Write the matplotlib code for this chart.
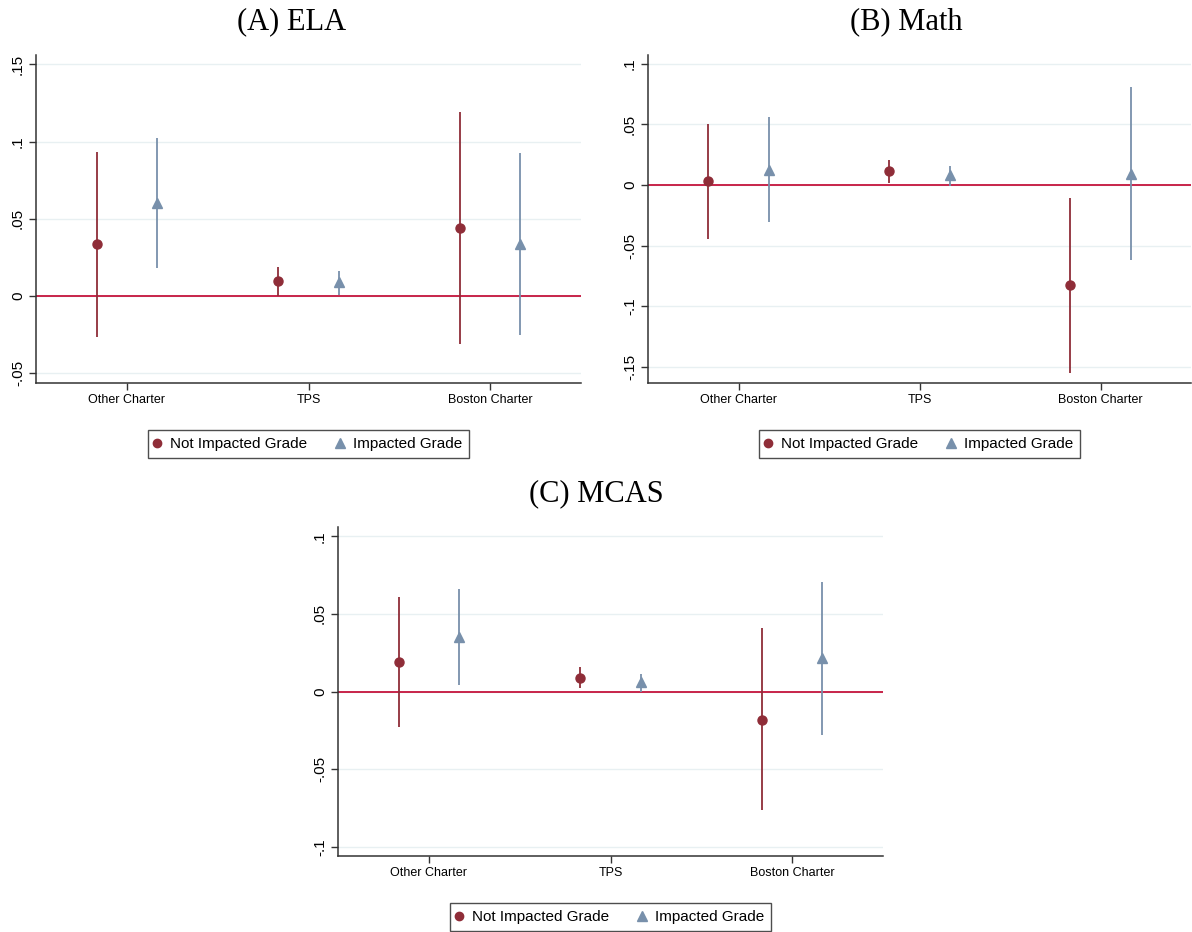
import matplotlib
matplotlib.use("Agg")
import matplotlib.pyplot as plt
from matplotlib.lines import Line2D

plt.rcParams["font.family"] = ["Liberation Sans", "DejaVu Sans"]

# Categories and estimates
categories = ["Other Charter", "TPS", "Boston Charter"]

ela_ni = [0.0334, 0.0097, 0.0438]
ela_ni_lo = [-0.0263, 0.0002, -0.0313]
ela_ni_hi = [0.093, 0.0186, 0.119]
ela_i = [0.060, 0.0089, 0.0336]
ela_i_lo = [0.0183, 0.0006, -0.0254]
ela_i_hi = [0.1024, 0.0164, 0.0923]

math_ni = [0.003, 0.0112, -0.0827]
math_ni_lo = [-0.0445, 0.0016, -0.155]
math_ni_hi = [0.050, 0.0209, -0.0107]
math_i = [0.0126, 0.0079, 0.0093]
math_i_lo = [-0.0308, -0.001, -0.0621]
math_i_hi = [0.0563, 0.0154, 0.0808]

mcas_ni = [0.0189, 0.009, -0.0181]
mcas_ni_lo = [-0.0228, 0.0023, -0.0766]
mcas_ni_hi = [0.0606, 0.0157, 0.0406]
mcas_i = [0.0352, 0.0058, 0.0213]
mcas_i_lo = [0.0043, -0.0002, -0.0282]
mcas_i_hi = [0.066, 0.0112, 0.0703]

yticks_ela = [-0.05, 0, 0.05, 0.1, 0.15]
yticks_math = [-0.15, -0.1, -0.05, 0, 0.05, 0.1]
yticks_mcas = [-0.1, -0.05, 0, 0.05, 0.1]

RED = "#8f2d38"
BLUE = "#7890ab"
ZERO = "#c4143c"
GRID = "#e8f0f2"


def fmt(v):
    if v == 0:
        return "0"
    s = ("%g" % v)
    return s.replace("0.", ".")


def panel(fig, rect, title, title_x, title_y, legend_y, ni, ni_lo, ni_hi,
          im, im_lo, im_hi, yticks, ylim):
    ax = fig.add_axes(rect)
    x = list(range(1, len(categories) + 1))
    xn = [v - 1 / 6 for v in x]
    xi = [v + 1 / 6 for v in x]

    for t in yticks:
        ax.axhline(t, color=GRID, lw=1.0, zorder=0)
    ax.axhline(0, color=ZERO, lw=1.3, zorder=1)

    ax.vlines(xn, ni_lo, ni_hi, color=RED, lw=1.3, zorder=2)
    ax.vlines(xi, im_lo, im_hi, color=BLUE, lw=1.3, zorder=2)
    ax.plot(xn, ni, "o", color=RED, ms=6.5, zorder=3)
    ax.plot(xi, im, "^", color=BLUE, ms=7, zorder=3)

    ax.set_xlim(0.5, 3.5)
    ax.set_ylim(*ylim)
    ax.set_xticks(x)
    ax.set_xticklabels(categories, fontsize=9)
    ax.set_yticks(yticks)
    ax.set_yticklabels([fmt(t) for t in yticks], fontsize=11,
                       rotation=90, va="center")
    ax.tick_params(axis="both", length=5, width=1, color="#333333")
    ax.tick_params(axis="x", pad=3)
    ax.tick_params(axis="y", pad=3)
    for s in ["top", "right"]:
        ax.spines[s].set_visible(False)
    for s in ["left", "bottom"]:
        ax.spines[s].set_color("#333333")
        ax.spines[s].set_linewidth(1.1)

    fig.text(title_x, title_y, title, ha="center", va="center",
             fontsize=22, family="Liberation Serif")

    handles = [
        Line2D([], [], marker="o", color=RED, ls="none", ms=6),
        Line2D([], [], marker="^", color=BLUE, ls="none", ms=6.5),
    ]
    leg = fig.legend(handles, ["Not Impacted Grade", "Impacted Grade"],
                     loc="center", bbox_to_anchor=(rect[0] + rect[2] / 2, legend_y),
                     ncol=2, fontsize=11, frameon=True, fancybox=False,
                     edgecolor="#222222", handletextpad=0.7, columnspacing=2.0,
                     handlelength=0.3, borderpad=0.45, borderaxespad=0)
    leg.get_frame().set_linewidth(1.0)
    return ax


fig = plt.figure(figsize=(11.92, 9.32), dpi=100)
W, H = 1192.0, 932.0


def rect(l, r, t, b):
    return [l / W, 1 - b / H, (r - l) / W, (b - t) / H]


panel(fig, rect(36, 581, 55, 383), "(A) ELA", 292 / W, 1 - 22 / H, 1 - 444 / H,
      ela_ni, ela_ni_lo, ela_ni_hi, ela_i, ela_i_lo, ela_i_hi,
      yticks_ela, (-0.0563, 0.156))
panel(fig, rect(648, 1191, 55, 383), "(B) Math", 906 / W, 1 - 22 / H, 1 - 444 / H,
      math_ni, math_ni_lo, math_ni_hi, math_i, math_i_lo, math_i_hi,
      yticks_math, (-0.163, 0.107))
panel(fig, rect(338, 883, 527, 856), "(C) MCAS", 596 / W, 1 - 494 / H, 1 - 917 / H,
      mcas_ni, mcas_ni_lo, mcas_ni_hi, mcas_i, mcas_i_lo, mcas_i_hi,
      yticks_mcas, (-0.106, 0.106))

fig.savefig("out.png", dpi=100, facecolor="white")
